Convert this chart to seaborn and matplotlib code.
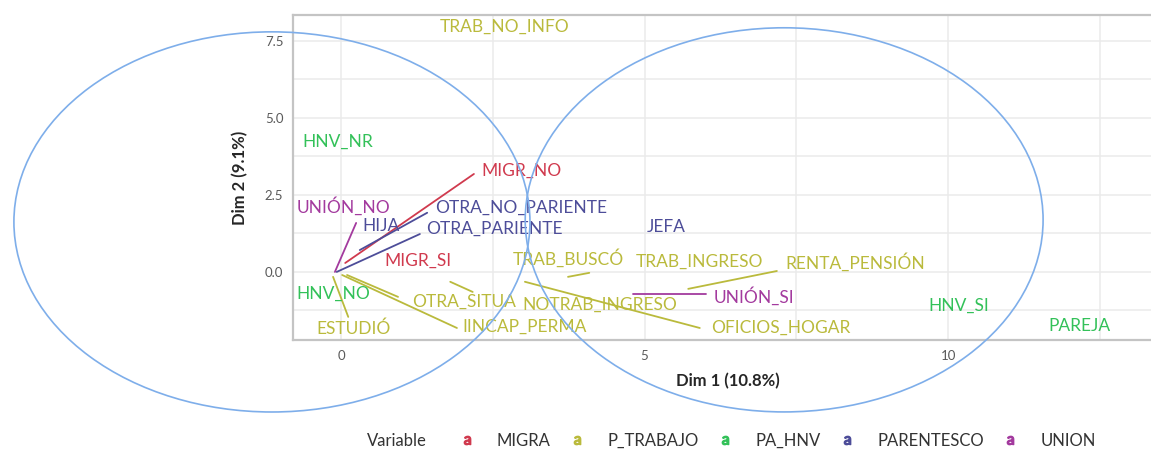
import pandas as pd
import seaborn as sns
import matplotlib.pyplot as plt
from matplotlib.patches import Ellipse
from matplotlib.lines import Line2D

# category labels (text placed where the repel put them)
labels = ["TRAB_NO_INFO", "HNV_NR", "MIGR_NO", "UNIÓN_NO", "OTRA_NO_PARIENTE", "HIJA",
          "OTRA_PARIENTE", "JEFA", "MIGR_SI", "TRAB_BUSCÓ", "TRAB_INGRESO", "RENTA_PENSIÓN",
          "UNIÓN_SI", "HNV_NO", "OTRA_SITUA", "NOTRAB_INGRESO", "HNV_SI", "PAREJA",
          "ESTUDIÓ", "IINCAP_PERMA", "OFICIOS_HOGAR"]
label_group = ["P_TRABAJO", "PA_HNV", "MIGRA", "UNION", "PARENTESCO", "PARENTESCO",
               "PARENTESCO", "PARENTESCO", "MIGRA", "P_TRABAJO", "P_TRABAJO", "P_TRABAJO",
               "UNION", "PA_HNV", "P_TRABAJO", "P_TRABAJO", "PA_HNV", "PA_HNV",
               "P_TRABAJO", "P_TRABAJO", "P_TRABAJO"]
label_x = [2.69, -0.05, 2.98, 0.05, 2.97, 0.66, 2.52, 5.35, 1.27, 3.74, 5.90, 8.47,
           6.80, -0.13, 2.03, 4.27, 10.18, 12.16, 0.20, 3.03, 7.25]
label_y = [7.95, 4.22, 3.28, 2.11, 2.08, 1.49, 1.40, 1.46, 0.36, 0.45, 0.32, 0.32,
           -0.81, -0.71, -0.97, -1.07, -1.10, -1.75, -1.85, -1.79, -1.82]

# repel segments: point -> label
seg_group = ["MIGRA", "UNION", "PARENTESCO", "PARENTESCO", "P_TRABAJO", "P_TRABAJO",
             "P_TRABAJO", "P_TRABAJO", "P_TRABAJO", "P_TRABAJO", "P_TRABAJO", "UNION"]
seg_x0 = [0.07, -0.10, 0.31, -0.07, -0.13, 0.02, 0.10, 1.80, 3.74, 3.03, 7.18, 4.81]
seg_y0 = [0.29, 0.00, 0.71, 0.00, -0.16, -0.10, -0.10, -0.32, -0.16, -0.32, 0.03, -0.71]
seg_x1 = [2.19, 0.25, 1.42, 1.30, 0.12, 1.91, 0.94, 2.17, 4.09, 5.91, 5.72, 6.01]
seg_y1 = [3.18, 1.59, 1.92, 1.23, -1.46, -1.82, -0.81, -0.65, -0.03, -1.82, -0.55, -0.71]

groups = ["MIGRA", "P_TRABAJO", "PA_HNV", "PARENTESCO", "UNION"]
colors = ["#D03A4E", "#BABA3C", "#33C159", "#4D4D99", "#A33A9E"]
palette = dict(zip(groups, colors))

seg_df = pd.DataFrame({
    "seg": list(range(len(seg_group))) * 2,
    "group": seg_group * 2,
    "x": seg_x0 + seg_x1,
    "y": seg_y0 + seg_y1,
})

sns.set_theme(style="white")
plt.rcParams['font.family'] = ['Lato', 'DejaVu Sans']

fig = plt.figure(figsize=(11.51, 4.5), dpi=100)
ax = fig.add_axes([293 / 1151, 110 / 450, 870 / 1151, 325 / 450])

sns.lineplot(data=seg_df, x="x", y="y", hue="group", units="seg", estimator=None,
             sort=False, palette=palette, legend=False, lw=1.3, ax=ax)

for lab, g, x, y in zip(labels, label_group, label_x, label_y):
    ax.text(x, y, lab, color=palette[g], fontsize=12.5, ha="center", va="center")

ax.set_xlim(-0.79, 13.54)
ax.set_ylim(-2.21, 8.34)
ax.set_xticks([0, 5, 10])
ax.set_xticklabels(["0", "5", "10"])
ax.set_yticks([0, 2.5, 5, 7.5])
ax.set_yticklabels(["0.0", "2.5", "5.0", "7.5"])
ax.set_xticks([2.5, 7.5, 12.5], minor=True)
ax.set_yticks([-1.25, 1.25, 3.75, 6.25], minor=True)
ax.grid(True, which="both", color="#EBEBEB", lw=1.1)
ax.set_axisbelow(True)
ax.tick_params(which="both", length=3, color="#C8C8C8", labelsize=9.5,
               labelcolor="#5A5A5A", pad=4)
for side in ["left", "bottom", "top"]:
    ax.spines[side].set_color("#C4C4C4")
    ax.spines[side].set_linewidth(1.6)
ax.spines["right"].set_visible(False)

ax.set_xlabel("Dim 1 (10.8%)", fontsize=12, fontweight="bold", labelpad=8)
ax.set_ylabel("Dim 2 (9.1%)", fontsize=12, fontweight="bold", labelpad=12)

# hand drawn ellipses over the plot
for cx, cy, w, h in [(-1.137, 1.623, 8.50, 12.34), (7.30, 1.69, 8.53, 12.47)]:
    ax.add_patch(Ellipse((cx, cy), w, h, fill=False, ec="#7EAEEA", lw=1.2,
                         clip_on=False, zorder=5))

handles = [Line2D([], [], marker=r"$\mathregular{a}$", color=c, ls="", markersize=6)
           for c in colors]
fig.text(367 / 1151, 1 - 441 / 450, "Variable", fontsize=12, color="#333333",
         va="center", ha="left")
fig.legend(handles, groups, loc="center", bbox_to_anchor=(778 / 1151, 1 - 441 / 450),
           ncol=5, frameon=False, fontsize=12, handlelength=0.8, handletextpad=1.4,
           columnspacing=1.2, labelcolor="#333333")

fig.savefig("out.png", dpi=100)
